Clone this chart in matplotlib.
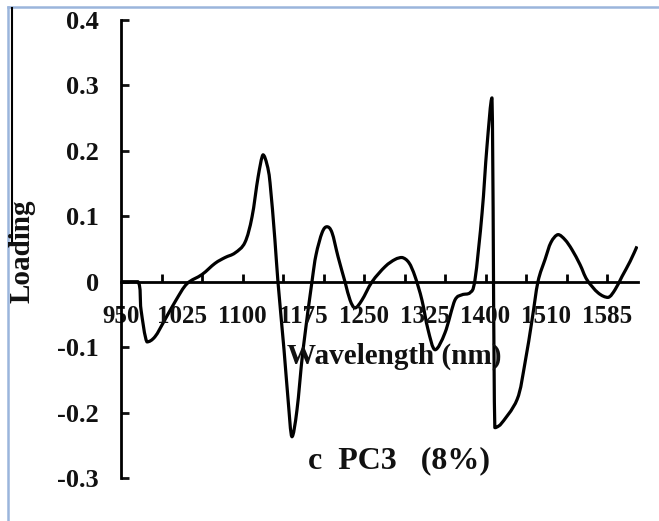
import matplotlib
matplotlib.use('Agg')
import matplotlib.pyplot as plt
from matplotlib.lines import Line2D
from matplotlib.path import Path
from matplotlib.patches import PathPatch

# PC3 loading curve, x is the spectrum point index (2.5 nm steps)
position = [0, 8.4, 9.9, 12.8, 16.8, 21.7, 27.2, 32.6, 40, 46.4, 51.4, 56.3,
            61.2, 64.7, 67.7, 70.1, 72.1, 73.6, 76, 77.5, 80.5, 82.5, 84.4,
            86.9, 89.9, 94.3, 96.3, 99.3, 101.7, 104.2, 107.2, 110.6, 113.1,
            115.6, 119, 124, 130.4, 135.3, 138.8, 142.2, 145.2, 148.6, 151.6,
            155.1, 160, 164.9, 168.4, 172.3, 174.8, 178.3, 180.7, 183.2,
            184.6, 187.2, 195.6, 199.5, 203, 205.9, 209.4, 212.3,
            215.8, 219.3, 222.7, 226.7, 230.1, 235.6, 240.5, 244, 247.4,
            251.4, 254.8]
loading = [0, 0, -0.043, -0.092, -0.084, -0.058, -0.028, -0.003, 0.011,
           0.028, 0.037, 0.044, 0.060, 0.099, 0.160, 0.194, 0.179, 0.151,
           0.064, 0.0, -0.104, -0.180, -0.237, -0.196, -0.104, 0.0, 0.041,
           0.075, 0.084, 0.075, 0.038, 0.0, -0.028, -0.040, -0.028, 0.0,
           0.023, 0.034, 0.037, 0.029, 0.008, -0.028, -0.073, -0.104,
           -0.078, -0.028, -0.020, -0.017, 0.003, 0.105, 0.206, 0.281,
           -0.223, -0.219, -0.180, -0.124, -0.058, 0.0, 0.034, 0.060, 0.072,
           0.064, 0.049, 0.026, 0.003, -0.017, -0.024, -0.012, 0.008, 0.031,
           0.054]

wl_labels = ['950', '1025', '1100', '1175', '1250', '1325', '1400', '1510', '1585']
wl_label_pos = [0, 30, 60, 90, 120, 150, 180, 210, 240]
tick_pos = [20, 40, 60, 80, 100, 120, 140, 160, 180, 200, 220, 240]
y_ticks = [-0.3, -0.2, -0.1, 0, 0.1, 0.2, 0.3, 0.4]
y_labels = ['-0.3', '-0.2', '-0.1', '0', '0.1', '0.2', '0.3', '0.4']


def smooth_path(xs, ys):
    # smoothed line through every point, cubic bezier segments;
    # control points kept inside each segment's y range so peaks stay put
    pts = list(zip(xs, ys))
    n = len(pts)
    verts = [pts[0]]
    codes = [Path.MOVETO]
    for i in range(n - 1):
        p0 = pts[max(i - 1, 0)]
        p1 = pts[i]
        p2 = pts[i + 1]
        p3 = pts[min(i + 2, n - 1)]
        lo, hi = min(p1[1], p2[1]), max(p1[1], p2[1])
        c1y = min(max(p1[1] + (p2[1] - p0[1]) / 6, lo), hi)
        c2y = min(max(p2[1] - (p3[1] - p1[1]) / 6, lo), hi)
        c1 = (p1[0] + (p2[0] - p0[0]) / 6, c1y)
        c2 = (p2[0] - (p3[0] - p1[0]) / 6, c2y)
        verts += [c1, c2, p2]
        codes += [Path.CURVE4] * 3
    return Path(verts, codes)


W, H = 659, 521
plt.rcParams['font.family'] = 'Liberation Serif'
plt.rcParams['font.weight'] = 'bold'

fig = plt.figure(figsize=(W / 100, H / 100), dpi=100)
ax = fig.add_axes([121 / W, 1 - 478 / H, (638 - 121) / W, (478 - 20) / H])

ax.add_patch(PathPatch(smooth_path(position, loading), fill=False,
                       edgecolor='black', lw=2.3, joinstyle='round'))

ax.set_xlim(0, 255.3)
ax.set_ylim(-0.3, 0.4)

for s in ['top', 'right']:
    ax.spines[s].set_visible(False)
ax.spines['bottom'].set_position(('data', 0))
ax.spines['left'].set_linewidth(2.0)
ax.spines['bottom'].set_linewidth(2.0)

ax.set_yticks(y_ticks)
ax.set_yticklabels(y_labels)
ax.tick_params(axis='y', direction='in', length=6, width=2.0, pad=16,
               labelsize=19, colors='#111111')

# labels every 30 points, tick marks every 20
ax.set_xticks(wl_label_pos)
ax.set_xticklabels(wl_labels)
ax.set_xticks(tick_pos, minor=True)
ax.xaxis.remove_overlapping_locs = False
ax.tick_params(axis='x', which='major', length=0, pad=17, labelsize=18,
               colors='#111111')
ax.tick_params(axis='x', which='minor', direction='in', length=6, width=2.0)

fig.text(22 / W, 1 - 251 / H, 'Loading', rotation=90, ha='center',
         va='center', fontsize=21, color='#111111')
fig.text(394 / W, 1 - 356 / H, 'Wavelength (nm)', ha='center', va='center',
         fontsize=21, color='#111111')
fig.text(399 / W, 1 - 461 / H, 'c  PC3   (8%)', ha='center', va='center',
         fontsize=23, color='#111111')

# page frame around the figure
fig.add_artist(Line2D([8 / W, 1], [1 - 7 / H, 1 - 7 / H], color='#9bb5dc',
                      lw=1.8, transform=fig.transFigure))
fig.add_artist(Line2D([8 / W, 8 / W], [0, 1 - 7 / H], color='#9bb5dc',
                      lw=1.8, transform=fig.transFigure))
fig.add_artist(Line2D([11.5 / W, 11.5 / W], [1 - 245 / H, 1 - 8 / H],
                      color='black', lw=1.5, transform=fig.transFigure))

fig.savefig('out.png', dpi=100)
